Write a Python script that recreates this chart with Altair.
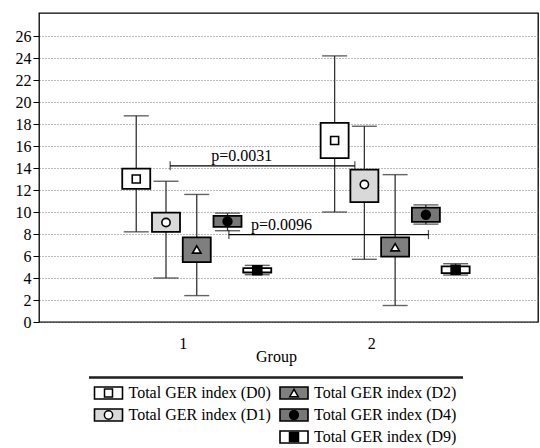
import altair as alt
import pandas as pd

# ---------------- data ----------------
series_names = ["D0", "D1", "D2", "D4", "D9"]
legend_labels = [f"Total GER index ({s})" for s in series_names]

group = [1, 1, 1, 1, 1, 2, 2, 2, 2, 2]
series = series_names * 2
whisker_low = [8.2, 4.0, 2.4, 8.3, 4.3, 10.0, 5.7, 1.5, 8.9, 4.27]
box_low = [12.1, 8.2, 5.45, 8.65, 4.5, 14.9, 10.9, 5.95, 9.1, 4.45]
center = [13.0, 9.05, 6.6, 9.15, 4.7, 16.5, 12.5, 6.8, 9.75, 4.75]
box_high = [13.95, 9.95, 7.7, 9.65, 4.9, 18.1, 13.85, 7.7, 10.4, 5.05]
whisker_high = [18.75, 12.8, 11.6, 9.9, 5.15, 24.2, 17.8, 13.4, 10.65, 5.3]

p_text = ["p=0.0031", "p=0.0096"]
p_level = [14.2, 7.95]
p_from = [0.866, 1.162]
p_to = [1.797, 2.168]
p_label_at = [1.073, 1.273]

legend_col = [0, 0, 1, 1, 1]
legend_row = [0, 1, 0, 1, 2]

y_ticks = [0, 2, 4, 6, 8, 10, 12, 14, 16, 18, 20, 22, 24, 26]

# ---------------- layout / style ----------------
DODGE = {"D0": -0.305, "D1": -0.155, "D2": 0.0, "D4": 0.155, "D9": 0.305}
BOX_FILL = ["white", "#d9d9d9", "#7f7f7f", "#777777", "white"]
MARK_FILL = ["white", "white", "white", "black", "black"]
MARK_SHAPE = ["square", "circle", "triangle-up", "circle", "square"]
MARK_SIZE = [64, 81, 100, 100, 81]
FONT = "Liberation Serif"

df = pd.DataFrame({
    "group": group, "series": series,
    "whisker_low": whisker_low, "box_low": box_low, "center": center,
    "box_high": box_high, "whisker_high": whisker_high,
})
df["x"] = df["group"] + df["series"].map(DODGE)

pdf = pd.DataFrame({"text": p_text, "level": p_level, "from": p_from,
                    "to": p_to, "at": p_label_at})
ldf = pd.DataFrame({"series": series_names, "label": legend_labels,
                    "col": legend_col, "row": legend_row})

xs = alt.Scale(domain=[0.23, 2.695], nice=False, zero=False)
ys = alt.Scale(domain=[0, 28.1], nice=False, zero=True)

color_scale = alt.Scale(domain=series_names, range=BOX_FILL)
fill_scale = alt.Scale(domain=series_names, range=MARK_FILL)
shape_scale = alt.Scale(domain=series_names, range=MARK_SHAPE)
size_scale = alt.Scale(domain=series_names, range=MARK_SIZE)

x_axis = alt.Axis(
    values=[1, 2], format="d", grid=False, ticks=False, domain=False,
    labelFontSize=16, labelPadding=13, labelFont=FONT,
    labelOffset={"condition": {"test": "datum.value == 1", "value": -14}, "value": -24},
    titleFontSize=16, titleFontWeight="normal", titleFont=FONT, titleX=237, titleY=39,
    titleBaseline="alphabetic",
)
y_axis = alt.Axis(
    values=y_ticks, tickCount=len(y_ticks), grid=True, gridDash=[1, 2],
    gridColor="#777777", gridWidth=1, domain=False, tickColor="black", tickSize=6,
    labelPadding=2, labelFontSize=16, labelColor="black", labelFont=FONT,
    labelOverlap=False, labelSeparation=0, labelBound=False,
)


def X(field):
    return alt.X(field, scale=xs, axis=x_axis, title="Group")


def Y(field):
    return alt.Y(field, scale=ys, axis=y_axis, title=None)


base = alt.Chart(df)

whiskers = base.mark_rule(color="#333333", strokeWidth=1.3).encode(
    x=X("x:Q"), y=Y("whisker_low:Q"), y2="whisker_high:Q",
)

caps = base.transform_fold(["whisker_low", "whisker_high"], as_=["end", "val"]).mark_tick(
    orient="horizontal", size=25, thickness=1.4, color="#222222"
).encode(x=X("x:Q"), y=Y("val:Q"))

boxes = base.mark_bar(size=28, stroke="black", strokeWidth=1.8).encode(
    x=X("x:Q"), y=Y("box_low:Q"), y2="box_high:Q",
    color=alt.Color("series:N", scale=color_scale, legend=None),
)

markers = base.mark_point(filled=True, stroke="black", strokeWidth=1.6, opacity=1).encode(
    x=X("x:Q"), y=Y("center:Q"),
    fill=alt.Fill("series:N", scale=fill_scale, legend=None),
    shape=alt.Shape("series:N", scale=shape_scale, legend=None),
    size=alt.Size("series:N", scale=size_scale, legend=None),
)

pbase = alt.Chart(pdf)
p_lines = pbase.mark_rule(color="black", strokeWidth=1.2).encode(
    x=X("from:Q"), x2="to:Q", y=Y("level:Q"),
)
p_ends = pbase.transform_fold(["from", "to"], as_=["end", "pos"]).mark_tick(
    orient="vertical", size=9, thickness=1.2, color="black"
).encode(x=X("pos:Q"), y=Y("level:Q"))
p_labels = pbase.mark_text(align="left", baseline="alphabetic", dy=-5,
                           fontSize=16, font=FONT, color="black").encode(
    x=X("at:Q"), y=Y("level:Q"), text="text:N",
)

main = alt.layer(whiskers, caps, boxes, markers, p_lines, p_ends, p_labels)

# ---------------- legend below the plot ----------------
lxs = alt.Scale(domain=[0, 1], range=[69.5, 255])
lys = alt.Scale(domain=[0, 2], range=[380, 424])
lbase = alt.Chart(ldf)

rect_path = "M-1,-0.43L1,-0.43L1,0.43L-1,0.43Z"
leg_boxes = lbase.mark_point(shape=rect_path, filled=True, size=784, stroke="black",
                             strokeWidth=1.6, opacity=1).encode(
    x=alt.X("col:Q", scale=lxs, axis=None),
    y=alt.Y("row:Q", scale=lys, axis=None),
    color=alt.Color("series:N", scale=color_scale, legend=None),
)
leg_marks = lbase.mark_point(filled=True, stroke="black", strokeWidth=1.5, opacity=1).encode(
    x=alt.X("col:Q", scale=lxs, axis=None),
    y=alt.Y("row:Q", scale=lys, axis=None),
    fill=alt.Fill("series:N", scale=fill_scale, legend=None),
    shape=alt.Shape("series:N", scale=shape_scale, legend=None),
    size=alt.Size("series:N", scale=size_scale, legend=None),
)
leg_text = lbase.mark_text(align="left", baseline="middle", dx=20, fontSize=16,
                           font=FONT, color="black").encode(
    x=alt.X("col:Q", scale=lxs, axis=None),
    y=alt.Y("row:Q", scale=lys, axis=None),
    text="label:N",
)
leg_line = lbase.mark_rule(color="#222222", strokeWidth=1.5).encode(
    x=alt.value(50), x2=alt.value(424), y=alt.value(364.5),
)

legend = alt.layer(leg_line, leg_boxes, leg_marks, leg_text)

chart = alt.layer(main, legend).resolve_scale(x="independent", y="independent").properties(
    width=499, height=309,
    padding={"left": 15, "top": 13, "right": 2, "bottom": 2},
).configure(
    font=FONT,
).configure_view(
    stroke="black", strokeWidth=1.3,
).configure_axis(
    labelFont=FONT, titleFont=FONT, labelColor="black", titleColor="black",
)

chart.save("out.html", embed_options={"renderer": "svg", "actions": False})
